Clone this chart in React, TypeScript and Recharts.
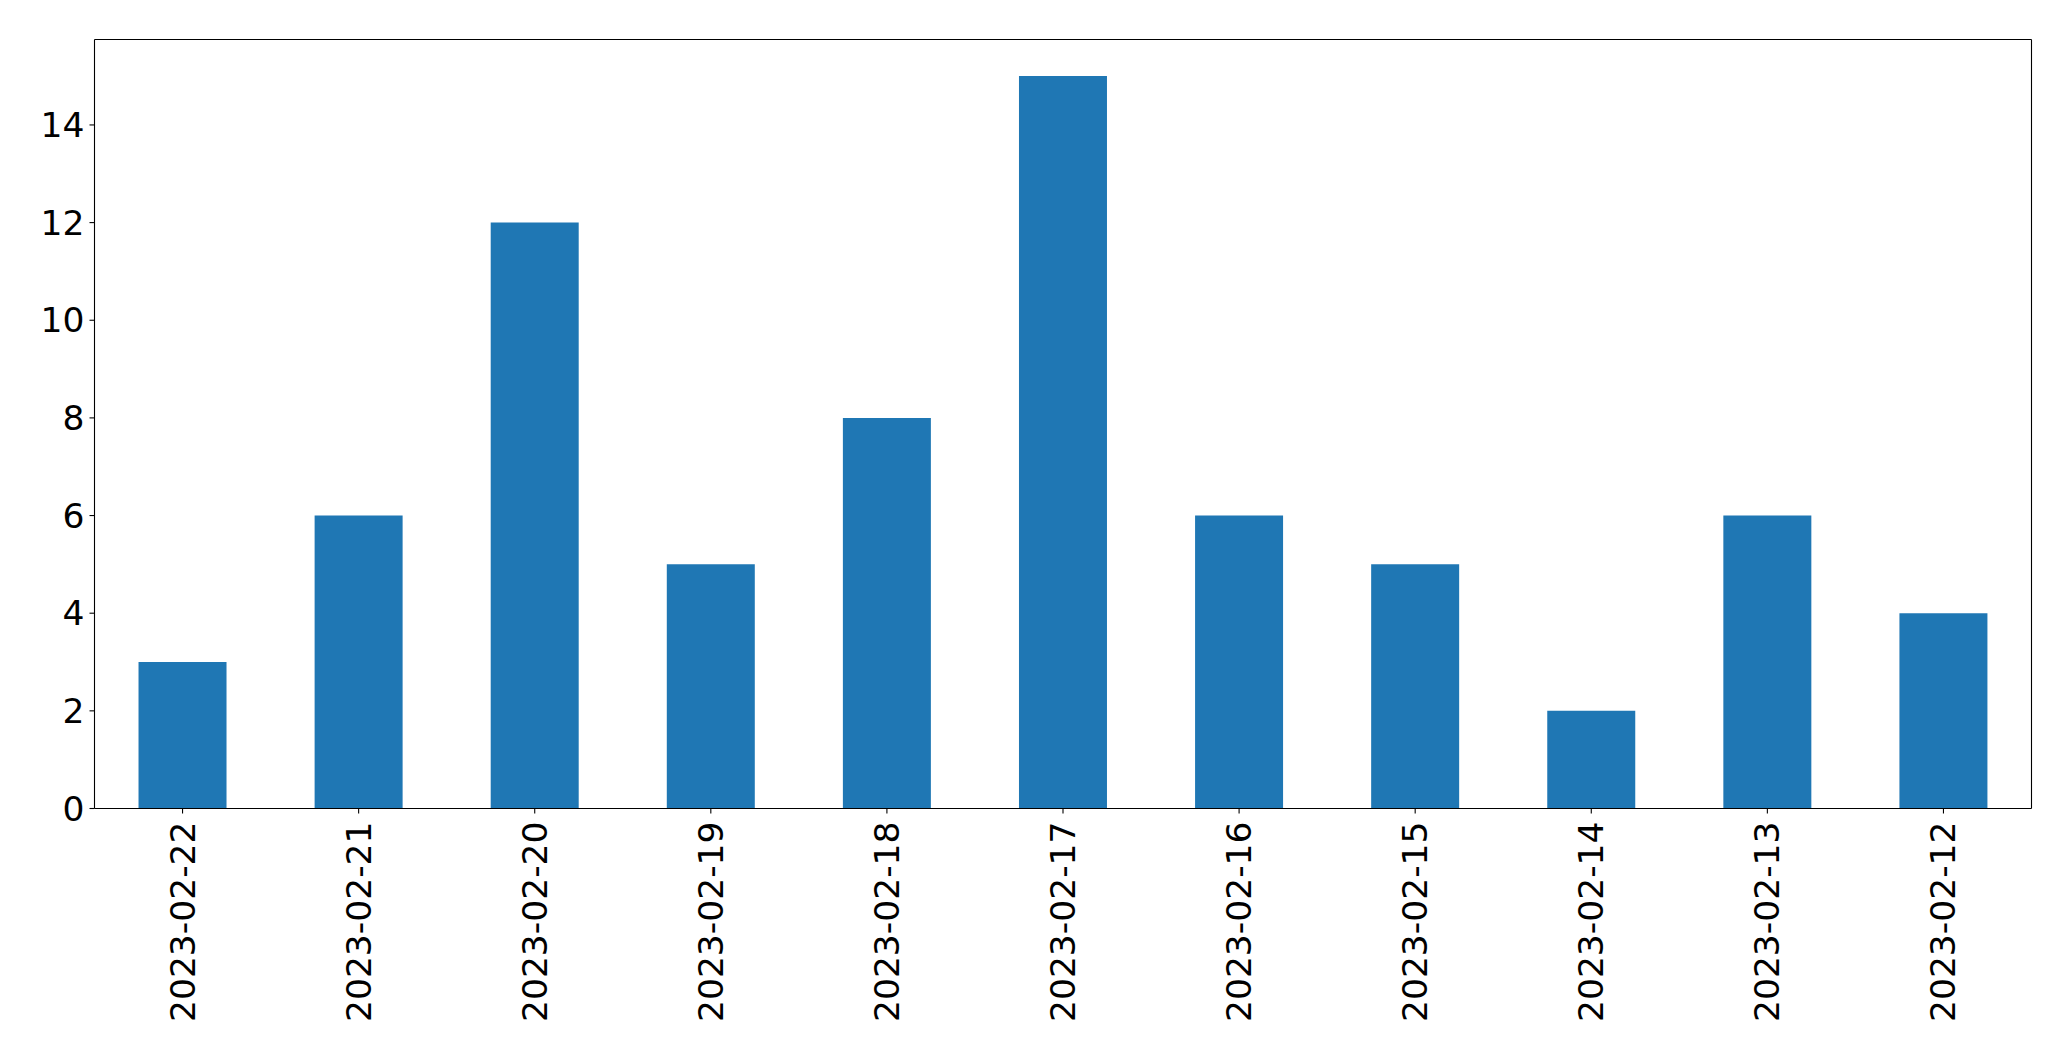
import React from "react";
import { BarChart, Bar, XAxis, YAxis, ReferenceLine } from "recharts";

// 날짜별 건수 (역순)
const dates = [
  "2023-02-22",
  "2023-02-21",
  "2023-02-20",
  "2023-02-19",
  "2023-02-18",
  "2023-02-17",
  "2023-02-16",
  "2023-02-15",
  "2023-02-14",
  "2023-02-13",
  "2023-02-12",
];
const counts = [3, 6, 12, 5, 8, 15, 6, 5, 2, 6, 4];
const yTicks = [0, 2, 4, 6, 8, 10, 12, 14];
const yMax = 15.75;

const data = dates.map((d, i) => ({ date: d, count: counts[i] }));

const FONT = "'DejaVu Sans', sans-serif";

function XTick({ x, y, payload }: any) {
  return (
    <g>
      <line x1={x} y1={y} x2={x} y2={y + 5} stroke="#000" strokeWidth={1.1} />
      <text
        x={x}
        y={y + 13}
        transform={`rotate(-90, ${x}, ${y + 13})`}
        textAnchor="end"
        dominantBaseline="central"
        fontSize={34.5}
        fontFamily={FONT}
        fill="#000"
      >
        {payload.value}
      </text>
    </g>
  );
}

function YTick({ x, y, payload }: any) {
  return (
    <g>
      <line x1={x - 5} y1={y} x2={x} y2={y} stroke="#000" strokeWidth={1.1} />
      <text
        x={x - 10}
        y={y}
        textAnchor="end"
        dominantBaseline="central"
        fontSize={34.5}
        fontFamily={FONT}
        fill="#000"
      >
        {payload.value}
      </text>
    </g>
  );
}

export default function App() {
  return (
    <div style={{ position: "absolute", left: 0, top: 0, background: "#fff" }}>
      <BarChart
        width={2071}
        height={1061}
        data={data}
        margin={{ top: 39.5, right: 39.5, left: 0, bottom: 0 }}
        barCategoryGap="25%"
      >
        <XAxis
          dataKey="date"
          interval={0}
          height={252.5}
          stroke="#000"
          tickLine={false}
          tickSize={0}
          tickMargin={0}
          tick={<XTick />}
          axisLine={{ stroke: "#000", strokeWidth: 1.1 }}
        />
        <YAxis
          domain={[0, yMax]}
          ticks={yTicks}
          width={94.5}
          stroke="#000"
          tickLine={false}
          tickSize={0}
          tickMargin={0}
          tick={<YTick />}
          axisLine={{ stroke: "#000", strokeWidth: 1.1 }}
        />
        <Bar dataKey="count" fill="#1f77b4" isAnimationActive={false} />
        <ReferenceLine y={yMax} stroke="#000" strokeWidth={1.1} />
        <ReferenceLine
          x={dates[dates.length - 1]}
          position="end"
          stroke="#000"
          strokeWidth={1.1}
        />
      </BarChart>
    </div>
  );
}
